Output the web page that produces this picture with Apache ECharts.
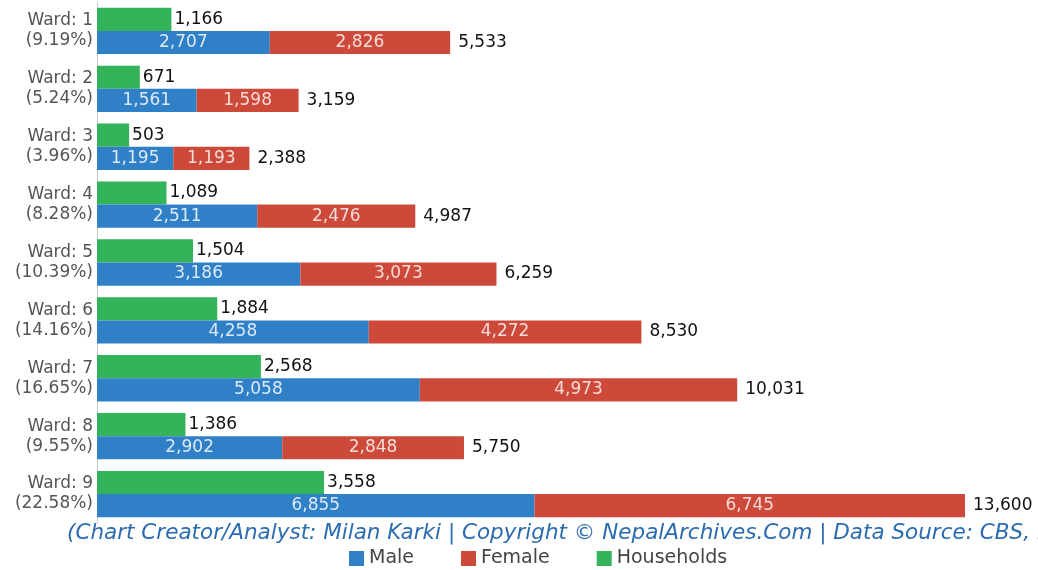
<!DOCTYPE html>
<html><head><meta charset="utf-8">
<script src="https://cdn.jsdelivr.net/npm/echarts@6/dist/echarts.min.js"></script>
<style>html,body{margin:0;padding:0;background:#fff}#c{width:1038px;height:570px}</style>
</head><body><div id="c"></div>
<script>
const wards = ['Ward: 1','Ward: 2','Ward: 3','Ward: 4','Ward: 5','Ward: 6','Ward: 7','Ward: 8','Ward: 9'];
const shares = ['9.19%','5.24%','3.96%','8.28%','10.39%','14.16%','16.65%','9.55%','22.58%'];
const male = [2707,1561,1195,2511,3186,4258,5058,2902,6855];
const female = [2826,1598,1193,2476,3073,4272,4973,2848,6745];
const households = [1166,671,503,1089,1504,1884,2568,1386,3558];
// Reference caption is clipped at the image edge after "CBS, N"; the ending "Nepal)" is an assumed completion.
const caption = '(Chart Creator/Analyst: Milan Karki | Copyright © NepalArchives.Com | Data Source: CBS, Nepal)';

const totals = male.map((m,i)=>m+female[i]);
const cats = wards.map((w,i)=>w+'\n('+shares[i]+')');
const fmt = v => v.toLocaleString('en-US');
const FONT = 'DejaVu Sans, sans-serif';

const chart = echarts.init(document.getElementById('c'));
chart.setOption({
  animation:false,
  textStyle:{fontFamily:FONT},
  title:{text:caption,left:62,top:517,textStyle:{fontSize:21.5,fontStyle:'italic',fontWeight:'normal',color:'#2b6cb0',fontFamily:FONT}},
  legend:{data:['Male','Female','Households'],bottom:-3,left:344,itemWidth:15,itemHeight:15,itemGap:47,
    textStyle:{fontSize:19,color:'#444',fontFamily:FONT},icon:'rect'},
  grid:{left:97,top:2,width:868,height:521},
  xAxis:{type:'value',min:0,max:13600,show:false},
  yAxis:{type:'category',data:cats,inverse:true,
    axisLine:{show:true,lineStyle:{color:'#ccc'}},axisTick:{show:false},
    axisLabel:{fontSize:17,color:'#555',lineHeight:20,margin:4,fontFamily:FONT}},
  series:[
    {name:'Households',type:'bar',data:households,barGap:'0%',barCategoryGap:'20%',
      itemStyle:{color:'#33b45b'},
      label:{show:true,position:'right',distance:3,color:'#111',fontSize:17,formatter:p=>fmt(p.value)}},
    {name:'Male',type:'bar',stack:'pop',data:male,itemStyle:{color:'#2f80c7'},
      label:{show:true,position:'inside',color:'#dce8f5',fontSize:17,formatter:p=>fmt(p.value)}},
    {name:'Female',type:'bar',stack:'pop',data:female,itemStyle:{color:'#cd4a3b'},
      label:{show:true,position:'inside',color:'#f6dcd8',fontSize:17,formatter:p=>fmt(p.value)}},
    {name:'Total',type:'bar',stack:'pop',data:totals.map(()=>0),itemStyle:{color:'transparent'},
      label:{show:true,position:'right',distance:8,color:'#111',fontSize:17,formatter:p=>fmt(totals[p.dataIndex])}}
  ]
});
</script></body></html>
